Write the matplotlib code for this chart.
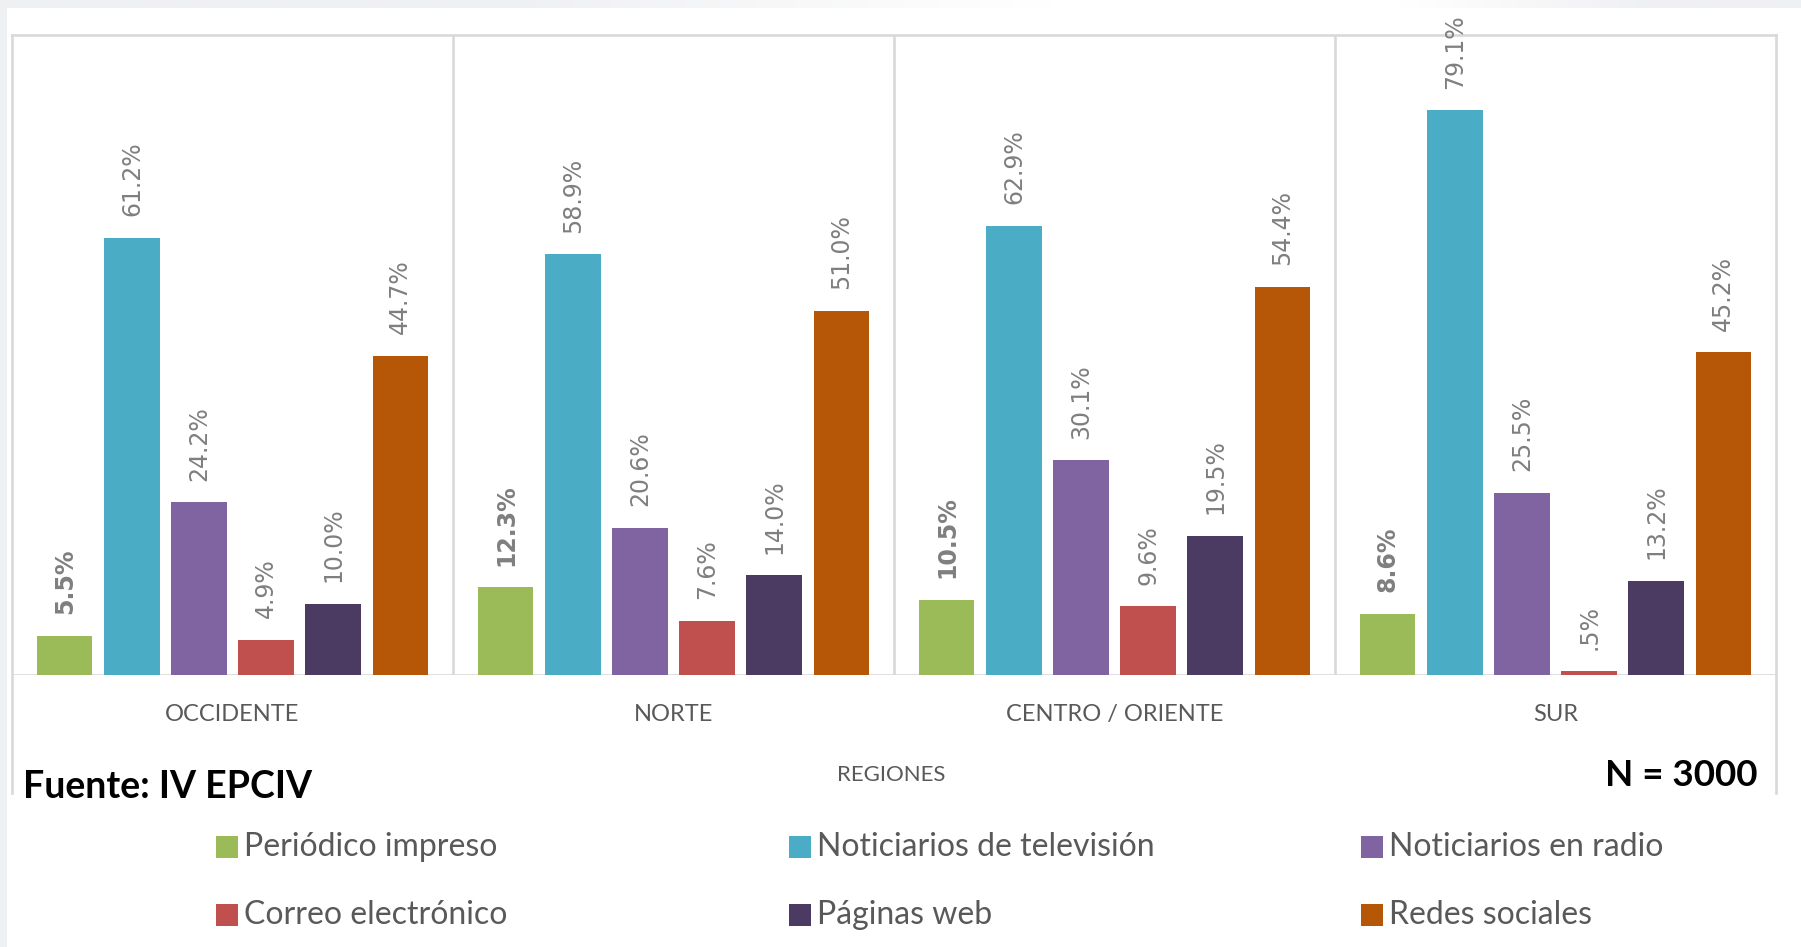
import numpy as np
import matplotlib
matplotlib.use("Agg")
import matplotlib.pyplot as plt
import matplotlib.transforms as mtransforms
from matplotlib.lines import Line2D
from matplotlib.patches import Rectangle

# Datos
regiones = ["OCCIDENTE", "NORTE", "CENTRO / ORIENTE", "SUR"]
medios = ["Periódico impreso", "Noticiarios de televisión", "Noticiarios en radio",
          "Correo electrónico", "Páginas web", "Redes sociales"]
periodico = [5.5, 12.3, 10.5, 8.6]
television = [61.2, 58.9, 62.9, 79.1]
radio = [24.2, 20.6, 30.1, 25.5]
correo = [4.9, 7.6, 9.6, 0.5]
web = [10.0, 14.0, 19.5, 13.2]
redes = [44.7, 51.0, 54.4, 45.2]
series = [periodico, television, radio, correo, web, redes]
colores = ["#9BBB59", "#4BACC6", "#8064A2", "#C0504D", "#4B3A62", "#B65708"]

W, H = 1801, 947
fig = plt.figure(figsize=(W / 100, H / 100), dpi=100, facecolor="white")

# franjas grises del borde de la captura
fig.add_artist(Rectangle((0, 0), 7 / W, 1, transform=fig.transFigure,
                         facecolor="#eff0f2", edgecolor="none", zorder=0))
tira = fig.add_axes([0, 1 - 8 / H, 1, 8 / H])
pts_x = [0, 500, 1050, 1400, 1650, W]
pts_v = [0, 0, 1, 1, 0, 0]
grad = np.interp(np.arange(W), pts_x, pts_v)
base = np.array([0xef, 0xf0, 0xf2]) / 255
img = base[None, :] * (1 - grad[:, None]) + grad[:, None]
tira.imshow(img[None, :, :], aspect="auto")
tira.axis("off")

# ejes principales
x0, x1 = 12, 1776
y_base, y_top = 675, 34.5
ax = fig.add_axes([x0 / W, (H - y_base) / H, (x1 - x0) / W, (y_base - y_top) / H])
ax.set_xlim(-0.5, 3.5)
ax.set_ylim(0, 89.7)

gris_borde = "#d9d9d9"
for s in ["left", "right", "bottom"]:
    ax.spines[s].set_visible(False)
ax.spines["top"].set_color(gris_borde)
ax.spines["top"].set_linewidth(1.9)
ax.set_xticks([])
ax.set_yticks([])

# bordes laterales que bajan hasta la zona del título
bajo = -(793 - y_base) / (y_base - y_top)
for xx in [0, 1]:
    ax.add_line(Line2D([xx, xx], [bajo, 1], transform=ax.transAxes, color=gris_borde,
                       lw=1.9, clip_on=False, zorder=1))
ax.axhline(0, color=gris_borde, lw=1.9, zorder=1)
for xs in [0.5, 1.5, 2.5]:
    ax.axvline(xs, color=gris_borde, lw=1.9, zorder=1)

x = np.arange(len(regiones))
paso = 0.152
ancho = 0.125
for i, (vals, col) in enumerate(zip(series, colores)):
    pos = x + (i - 2.5) * paso
    ax.bar(pos, vals, width=ancho, color=col, zorder=2, label=medios[i])
    for px, v in zip(pos, vals):
        etiqueta = f"{v:.1f}%".lstrip("0")
        ax.annotate(etiqueta, (px, v), xytext=(0, 15.5), textcoords="offset points",
                    rotation=90, ha="center", va="bottom", fontsize=17,
                    color="#7f7f7f", fontweight="bold" if i == 0 else "normal",
                    annotation_clip=False)

trans = mtransforms.blended_transform_factory(ax.transData, ax.transAxes)
y_cat = -(714 - y_base) / (y_base - y_top)
for g, nombre in zip(x, regiones):
    ax.text(g, y_cat, nombre, transform=trans, ha="center", va="center",
            fontsize=17, color="#595959", family="Lato")

fig.text(891 / W, 1 - 775 / H, "REGIONES", ha="center", va="center",
         fontsize=16, color="#595959", family="Lato")
fig.text(23 / W, 1 - 787 / H, "Fuente: IV EPCIV", ha="left", va="center",
         fontsize=27, color="black", family="Lato", fontweight="bold")
fig.text(1757 / W, 1 - 775 / H, "N = 3000", ha="right", va="center",
         fontsize=26.5, color="black", family="Lato", fontweight="bold")

# leyenda en 3 columnas, orden por filas
col_x = [216, 789, 1361]
fila_y = [847, 915]
lado = 22
for i, (nombre, col) in enumerate(zip(medios, colores)):
    cx = col_x[i % 3]
    cy = fila_y[i // 3]
    fig.add_artist(Rectangle((cx / W, 1 - (cy + lado / 2) / H), lado / W, lado / H,
                             transform=fig.transFigure, facecolor=col, edgecolor="none"))
    fig.text((cx + lado + 6) / W, 1 - cy / H, nombre, ha="left", va="center",
             fontsize=23, color="#595959", family="Lato")

fig.savefig("out.png", dpi=100, facecolor="white")
